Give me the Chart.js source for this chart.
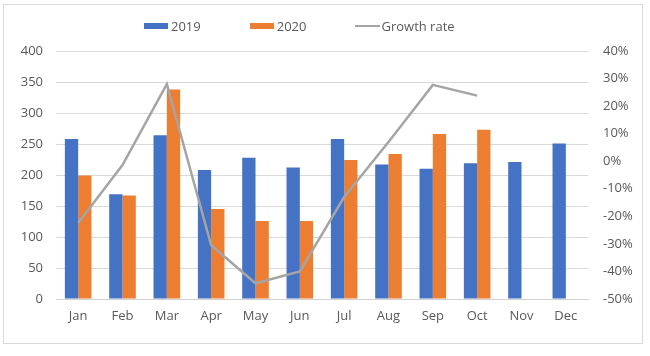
<!DOCTYPE html>
<html>
<head>
<meta charset="utf-8">
<script src="https://cdn.jsdelivr.net/npm/chart.js@4/dist/chart.umd.min.js"></script>
<style>
  html, body { margin: 0; padding: 0; background: #fff; }
  #wrap { position: relative; width: 650px; height: 356px; }
  #legend { position: absolute; top: 17px; left: 144px; display: flex; align-items: center;
            font-family: "Open Sans", sans-serif; font-size: 13px; color: #595959; white-space: nowrap; }
  .item { display: flex; align-items: center; margin-right: 49px; }
  .sw { display: inline-block; margin-right: 3px; }
</style>
</head>
<body>
<div id="wrap">
  <canvas id="c" width="650" height="356"></canvas>
  <div id="legend"></div>
</div>
<script>
const categories = ["Jan","Feb","Mar","Apr","May","Jun","Jul","Aug","Sep","Oct","Nov","Dec"];
const sales2019 = [258, 169, 264, 208, 228, 212, 258, 217, 210, 219, 221, 251];
const sales2020 = [199, 167, 338, 145, 126, 126, 224, 234, 266, 273, null, null];
const growthRate = [-22.4, -1.4, 28, -30.5, -44.3, -40, -13, 7, 27.7, 23.8, null, null];
const seriesNames = ["2019", "2020", "Growth rate"];
const leftTicks = [0, 50, 100, 150, 200, 250, 300, 350, 400];
const rightTicks = [-50, -40, -30, -20, -10, 0, 10, 20, 30, 40];

const BLUE = "#4472c4", ORANGE = "#ed7d31", GREY = "#a5a5a5";
const FONT = { family: "'Open Sans', sans-serif", size: 13 };

const framePlugin = {
  id: "frame",
  beforeDraw(chart) {
    const ctx = chart.ctx;
    ctx.save();
    ctx.fillStyle = "#fff";
    ctx.fillRect(0, 0, chart.width, chart.height);
    ctx.strokeStyle = "#d9d9d9";
    ctx.lineWidth = 1;
    ctx.strokeRect(3.5, 4.5, 639, 339);
    ctx.restore();
  }
};

const chart = new Chart(document.getElementById("c"), {
  type: "bar",
  data: {
    labels: categories,
    datasets: [
      { label: seriesNames[0], data: sales2019, backgroundColor: BLUE, yAxisID: "y", order: 1,
        categoryPercentage: 0.6, barPercentage: 1.0 },
      { label: seriesNames[1], data: sales2020, backgroundColor: ORANGE, yAxisID: "y", order: 1,
        categoryPercentage: 0.6, barPercentage: 1.0 },
      { type: "line", label: seriesNames[2], data: growthRate, borderColor: GREY, backgroundColor: GREY,
        borderWidth: 2.5, pointRadius: 0, tension: 0, yAxisID: "y1", order: 0, spanGaps: false }
    ]
  },
  plugins: [framePlugin],
  options: {
    responsive: false,
    animation: false,
    layout: { padding: { top: 51, bottom: 27, left: 0, right: 0 } },
    plugins: { legend: { display: false }, tooltip: { enabled: false } },
    scales: {
      x: {
        grid: { display: false, drawTicks: false },
        border: { display: true, color: "#d0d0d0" },
        ticks: { font: FONT, color: "#595959", padding: 9, maxRotation: 0 },
        afterFit(s) { s.height = 30; }
      },
      y: {
        position: "left",
        min: leftTicks[0], max: leftTicks[leftTicks.length - 1],
        afterBuildTicks(s) { s.ticks = leftTicks.map(v => ({ value: v })); },
        grid: { color: "#d9d9d9", drawTicks: false },
        border: { display: false },
        ticks: { font: FONT, color: "#595959", padding: 13 },
        afterFit(s) { s.width = 56; }
      },
      y1: {
        position: "right",
        min: rightTicks[0], max: rightTicks[rightTicks.length - 1],
        afterBuildTicks(s) { s.ticks = rightTicks.map(v => ({ value: v })); },
        grid: { display: false, drawTicks: false },
        border: { display: false },
        ticks: { font: FONT, color: "#595959", padding: 15, callback: v => v + "%" },
        afterFit(s) { s.width = 62; }
      }
    }
  }
});

// Legend built from the chart's datasets
const legend = document.getElementById("legend");
chart.data.datasets.forEach((ds, i) => {
  const item = document.createElement("div");
  item.className = "item";
  const sw = document.createElement("span");
  sw.className = "sw";
  if (ds.type === "line") {
    sw.style.width = "25px"; sw.style.height = "2px"; sw.style.background = ds.borderColor;
    sw.style.marginRight = "1px";
  } else {
    sw.style.width = "24px"; sw.style.height = "6px"; sw.style.background = ds.backgroundColor;
  }
  const tx = document.createElement("span");
  tx.textContent = ds.label;
  item.appendChild(sw); item.appendChild(tx);
  legend.appendChild(item);
});
</script>
</body>
</html>
